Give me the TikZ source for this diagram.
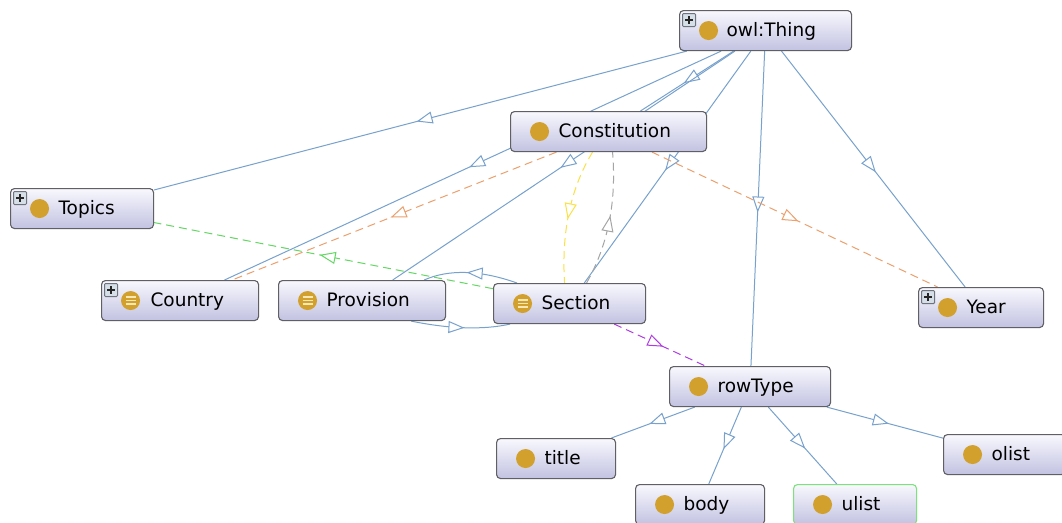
\documentclass[tikz,border=0pt]{standalone}
\usepackage{fontspec}
\setmainfont{DejaVu Sans}
\usetikzlibrary{arrows.meta,decorations.markings,backgrounds}
\definecolor{boxtop}{RGB}{248,248,253}
\definecolor{boxbot}{RGB}{194,194,226}
\definecolor{boxborder}{RGB}{95,95,100}
\definecolor{gold}{RGB}{210,160,45}
\definecolor{cream}{RGB}{250,232,180}
\definecolor{plusfill}{RGB}{214,222,232}
\definecolor{plusborder}{RGB}{110,115,125}
\definecolor{edgeblue}{RGB}{120,162,205}
\definecolor{orangeE}{RGB}{235,160,110}
\definecolor{greenE}{RGB}{100,215,100}
\definecolor{yellowE}{RGB}{250,225,70}
\definecolor{greyE}{RGB}{165,165,165}
\definecolor{purpleE}{RGB}{175,60,225}
\definecolor{ulistborder}{RGB}{125,225,125}
\newcommand{\ppdot}{\fill[gold] ([xshift=29pt]path picture bounding box.west) circle[radius=9.5pt];}
\newcommand{\ppeq}{\draw[cream, line width=1.4pt] ([xshift=24pt,yshift=3.6pt]path picture bounding box.west) -- ++(10pt,0pt) ([xshift=24pt]path picture bounding box.west) -- ++(10pt,0pt) ([xshift=24pt,yshift=-3.6pt]path picture bounding box.west) -- ++(10pt,0pt);}
\newcommand{\ppplus}{\filldraw[fill=plusfill, draw=plusborder, line width=0.9pt, rounded corners=1pt] ([xshift=3pt,yshift=-3pt]path picture bounding box.north west) rectangle ++(13pt,-13pt); \draw[black!85, line width=1.3pt] ([xshift=9.5pt,yshift=-5.5pt]path picture bounding box.north west) -- ++(0pt,-8pt) ([xshift=5.5pt,yshift=-9.5pt]path picture bounding box.north west) -- ++(8pt,0pt);}
\begin{document}
\begin{tikzpicture}[x=1pt,y=-1pt,
  font=\fontsize{18.5pt}{22pt}\selectfont,
  cls/.style={draw=boxborder, line width=1.1pt, rounded corners=4pt, top color=boxtop, bottom color=boxbot, anchor=north west, inner xsep=0pt, inner ysep=0pt, minimum height=40pt, text height=14pt, text depth=3pt, align=left},
  plain/.style={path picture={\ppdot}},
  pl/.style={path picture={\ppplus\ppdot}},
  eq/.style={path picture={\ppdot\ppeq}},
  pleq/.style={path picture={\ppplus\ppdot\ppeq}},
  midarr/.style={postaction={decorate}, decoration={markings, mark=at position 0.5 with {\arrow[xshift=4pt]{Triangle[length=16pt,width=12pt,fill=white]}}}},
  sub/.style={edgeblue, line width=1pt, midarr},
  prop/.style={#1, line width=1pt, dash pattern=on 8pt off 5pt, midarr}]
\useasboundingbox (0,0) rectangle (1062,522);
% nodes
\node[cls, pl, text width=172pt] (thing) at (679,10) {\hspace*{47pt}owl:Thing};
\node[cls, plain, text width=196pt] (const) at (510,111) {\hspace*{48pt}Constitution};
\node[cls, pl, text width=143pt] (topics) at (10,188) {\hspace*{48pt}Topics};
\node[cls, pleq, text width=157pt] (country) at (101,280) {\hspace*{49pt}Country};
\node[cls, eq, text width=167pt] (prov) at (278,280) {\hspace*{48pt}Provision};
\node[cls, eq, text width=152pt] (sec) at (493,283) {\hspace*{48pt}Section};
\node[cls, pl, text width=125pt] (year) at (918,287) {\hspace*{48pt}Year};
\node[cls, plain, text width=161pt] (rowtype) at (669,366) {\hspace*{48pt}rowType};
\node[cls, plain, text width=119pt] (title) at (496,438) {\hspace*{48pt}title};
\node[cls, plain, text width=129pt] (body) at (635,484) {\hspace*{48pt}body};
\node[cls, plain, text width=123pt, draw=ulistborder] (ulist) at (793,484) {\hspace*{48pt}ulist};
\node[cls, plain, text width=122pt] (olist) at (943,434) {\hspace*{48pt}olist};
% connectors
\begin{scope}[on background layer]
\fill[white] (0,0) rectangle (1062,522);
\draw[sub] (thing) -- (topics);
\draw[sub] (thing) -- (country);
\draw[sub] (thing) -- (const);
\draw[sub] (thing) -- (prov);
\draw[sub] (thing) -- (sec);
\draw[sub] (thing) -- (rowtype);
\draw[sub] (thing) -- (year);
\draw[sub] (rowtype) -- (title);
\draw[sub] (rowtype) -- (body);
\draw[sub] (rowtype) -- (ulist);
\draw[sub] (rowtype) -- (olist);
\draw[prop=orangeE] (const) -- (country);
\draw[prop=orangeE] (const) -- (year);
\draw[prop=greenE] (sec) -- (topics);
\draw[prop=purpleE] (sec) -- (rowtype);
\draw[prop=yellowE] ([xshift=-16pt]const.south) .. controls (570.7,188) and (561.3,231.7) .. ([xshift=-5pt]sec.north);
\draw[prop=greyE] ([xshift=17pt]sec.north) .. controls (608,245) and (616.7,201.7) .. ([xshift=4pt]const.south);
\draw[sub] ([xshift=24pt]sec.north west) .. controls (480.3,270) and (449,269) .. ([xshift=-22pt]prov.north east);
\draw[sub] ([xshift=-35pt]prov.south east) .. controls (450,329) and (483.3,330) .. ([xshift=17pt]sec.south west);
\end{scope}
\end{tikzpicture}
\end{document}
